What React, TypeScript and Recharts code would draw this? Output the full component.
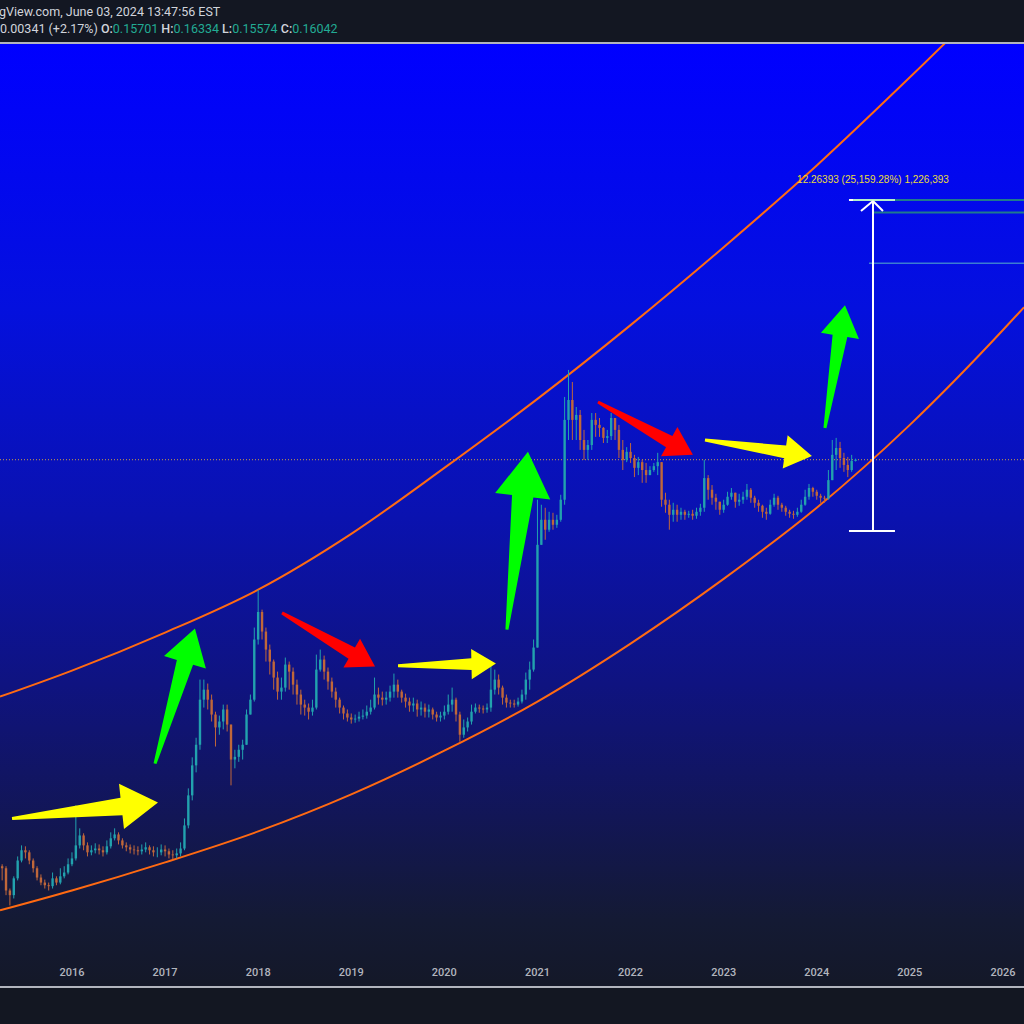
import React from 'react';
import { ComposedChart, Line, Scatter, XAxis, YAxis, ReferenceLine, ReferenceDot } from 'recharts';

// semi-monthly candles from 2015.25 to 2024.42
const firstOpen = 0.00018;
const closes = [
  0.000174, 0.00012, 0.000111, 0.000147, 0.000198, 0.000235, 0.000227, 0.000198, 0.000174, 0.000149,
  0.000137, 0.000131, 0.000129, 0.000147, 0.000137, 0.000152, 0.000162, 0.000186, 0.000205, 0.000255,
  0.000301, 0.000255, 0.000227, 0.000235, 0.000242, 0.000235, 0.000227, 0.000251, 0.000287, 0.000306,
  0.000277, 0.000255, 0.000247, 0.000238, 0.000235, 0.000231, 0.000238, 0.000247, 0.000235, 0.000227,
  0.000227, 0.000238, 0.000231, 0.000219, 0.000216, 0.000223, 0.000242, 0.000356, 0.000588, 0.000971,
  0.00137, 0.00291, 0.00344, 0.00291, 0.00227, 0.00183, 0.00202, 0.00247, 0.00192, 0.00107,
  0.00112, 0.00126, 0.00137, 0.00227, 0.00291, 0.00795, 0.0126, 0.00908, 0.00672, 0.0055,
  0.00421, 0.00333, 0.00356, 0.00523, 0.00465, 0.00374, 0.00317, 0.00268, 0.00255, 0.00238,
  0.00255, 0.00481, 0.00569, 0.00465, 0.00394, 0.00333, 0.00291, 0.00255, 0.00231, 0.00216,
  0.00209, 0.00212, 0.00219, 0.00223, 0.00238, 0.00255, 0.00317, 0.00301, 0.00291, 0.00301,
  0.00333, 0.00374, 0.00333, 0.00301, 0.00282, 0.00264, 0.00273, 0.00247, 0.00255, 0.00238,
  0.00247, 0.00227, 0.00216, 0.00223, 0.00238, 0.00268, 0.00291, 0.00227, 0.00162, 0.00183,
  0.00202, 0.00238, 0.00255, 0.00251, 0.00247, 0.00255, 0.00344, 0.00407, 0.00356, 0.00301,
  0.00277, 0.00273, 0.00268, 0.00282, 0.00317, 0.00407, 0.00481, 0.00695, 0.0387, 0.0588,
  0.0498, 0.0588, 0.0541, 0.0588, 0.0822, 0.312, 0.435, 0.312, 0.339, 0.223,
  0.189, 0.205, 0.312, 0.287, 0.273, 0.231, 0.238, 0.322, 0.264, 0.189,
  0.16, 0.183, 0.165, 0.14, 0.154, 0.135, 0.124, 0.135, 0.144, 0.154,
  0.0822, 0.0756, 0.0639, 0.0695, 0.0639, 0.0672, 0.0639, 0.065, 0.0629, 0.0672,
  0.0719, 0.118, 0.0971, 0.085, 0.0795, 0.0695, 0.0756, 0.0864, 0.0924, 0.0795,
  0.0822, 0.0864, 0.0971, 0.085, 0.0781, 0.0743, 0.0672, 0.065, 0.0756, 0.085,
  0.0756, 0.0719, 0.0672, 0.065, 0.0639, 0.0672, 0.0756, 0.0864, 0.1, 0.0939,
  0.0878, 0.085, 0.0836, 0.114, 0.174, 0.195, 0.165, 0.147, 0.135, 0.15701,
  0.16042,
];
const highs = [
  0.000186, 0.00018, 0.000124, 0.000152, 0.000212, 0.000255, 0.000251, 0.000235, 0.000205, 0.00018,
  0.000157, 0.000144, 0.000137, 0.000162, 0.000152, 0.000174, 0.00018, 0.000205, 0.000227, 0.000498,
  0.000339, 0.000312, 0.000268, 0.000255, 0.000264, 0.000259, 0.000251, 0.000277, 0.000317, 0.000339,
  0.000317, 0.000287, 0.000268, 0.000259, 0.000255, 0.000251, 0.000259, 0.000268, 0.000255, 0.000251,
  0.000247, 0.000259, 0.000255, 0.000242, 0.000235, 0.000242, 0.000268, 0.0004, 0.000661, 0.00111,
  0.00154, 0.00407, 0.00407, 0.00381, 0.00317, 0.00238, 0.00223, 0.00268, 0.00268, 0.00177,
  0.00126, 0.00137, 0.00149, 0.00247, 0.00317, 0.00971, 0.0183, 0.0131, 0.00971, 0.00731,
  0.00569, 0.00465, 0.00421, 0.00588, 0.0055, 0.00498, 0.00407, 0.00344, 0.00291, 0.00273,
  0.00291, 0.00618, 0.00672, 0.00608, 0.00498, 0.00421, 0.00356, 0.00301, 0.00264, 0.00247,
  0.00231, 0.00227, 0.00238, 0.00247, 0.00264, 0.00291, 0.00421, 0.00356, 0.00333, 0.00333,
  0.00368, 0.0045, 0.00407, 0.00344, 0.00322, 0.00301, 0.00301, 0.00291, 0.00282, 0.00273,
  0.00268, 0.00255, 0.00238, 0.00238, 0.00264, 0.00317, 0.00356, 0.00301, 0.00238, 0.00209,
  0.00216, 0.00268, 0.00273, 0.00268, 0.00264, 0.00273, 0.0055, 0.00481, 0.00443, 0.00368,
  0.00317, 0.00291, 0.00291, 0.00301, 0.00344, 0.00458, 0.0055, 0.00795, 0.0822, 0.0756,
  0.0719, 0.0672, 0.0661, 0.0639, 0.0893, 0.458, 0.719, 0.588, 0.387, 0.368,
  0.264, 0.223, 0.35, 0.35, 0.322, 0.277, 0.264, 0.35, 0.312, 0.287,
  0.223, 0.198, 0.212, 0.174, 0.168, 0.16, 0.152, 0.144, 0.152, 0.18,
  0.135, 0.0924, 0.0822, 0.0781, 0.0756, 0.0719, 0.0695, 0.0683, 0.0695, 0.0719,
  0.0768, 0.16, 0.124, 0.105, 0.0908, 0.0795, 0.0822, 0.0939, 0.1, 0.0908,
  0.0908, 0.0939, 0.107, 0.1, 0.0878, 0.0822, 0.0756, 0.0719, 0.0822, 0.0908,
  0.0878, 0.0781, 0.0743, 0.0695, 0.0683, 0.0719, 0.0822, 0.0971, 0.107, 0.102,
  0.0971, 0.0908, 0.0878, 0.135, 0.223, 0.231, 0.216, 0.18, 0.168, 0.174,
  0.16334,
];
const lows = [
  0.000142, 0.000111, 0.0000935, 0.000105, 0.000142, 0.000192, 0.000205, 0.000186, 0.000162, 0.000142,
  0.000131, 0.000124, 0.00012, 0.000124, 0.000131, 0.000133, 0.000147, 0.000157, 0.00018, 0.000198,
  0.000242, 0.000235, 0.000212, 0.000216, 0.000223, 0.000219, 0.000212, 0.000219, 0.000242, 0.000277,
  0.000259, 0.000242, 0.000231, 0.000223, 0.000219, 0.000216, 0.000219, 0.000227, 0.000219, 0.000212,
  0.000209, 0.000216, 0.000212, 0.000205, 0.000202, 0.000205, 0.000212, 0.000235, 0.000339, 0.000541,
  0.000864, 0.00126, 0.00255, 0.00247, 0.00202, 0.00133, 0.00162, 0.00177, 0.00171, 0.000695,
  0.000924, 0.00103, 0.00107, 0.00137, 0.00238, 0.00282, 0.00731, 0.00795, 0.0055, 0.00443,
  0.00344, 0.00291, 0.00291, 0.00333, 0.00344, 0.00317, 0.00268, 0.00227, 0.00223, 0.00209,
  0.00223, 0.00247, 0.00465, 0.00407, 0.00344, 0.00301, 0.00255, 0.00231, 0.00209, 0.00202,
  0.00195, 0.00198, 0.00202, 0.00209, 0.00212, 0.00227, 0.00247, 0.00268, 0.00264, 0.00268,
  0.00282, 0.00301, 0.00301, 0.00277, 0.00255, 0.00238, 0.00238, 0.00219, 0.00223, 0.00216,
  0.00216, 0.00209, 0.00202, 0.00202, 0.00209, 0.00227, 0.00238, 0.00202, 0.00144, 0.00154,
  0.00171, 0.00192, 0.00231, 0.00234, 0.00231, 0.00234, 0.00238, 0.00317, 0.00317, 0.00268,
  0.00255, 0.00255, 0.00255, 0.00259, 0.00273, 0.00291, 0.00344, 0.00465, 0.00695, 0.0387,
  0.0421, 0.0481, 0.0498, 0.0514, 0.0569, 0.0756, 0.223, 0.223, 0.223, 0.189,
  0.16, 0.16, 0.189, 0.235, 0.235, 0.212, 0.212, 0.223, 0.223, 0.165,
  0.135, 0.154, 0.152, 0.12, 0.124, 0.109, 0.109, 0.126, 0.131, 0.124,
  0.0731, 0.0661, 0.0498, 0.0569, 0.0569, 0.0588, 0.0588, 0.0608, 0.0588, 0.0598,
  0.0629, 0.0672, 0.0822, 0.0756, 0.0695, 0.0639, 0.0661, 0.0743, 0.0822, 0.0719,
  0.0743, 0.0768, 0.0822, 0.0781, 0.0719, 0.0672, 0.0608, 0.0588, 0.0639, 0.0731,
  0.0695, 0.0672, 0.0629, 0.0608, 0.0598, 0.0618, 0.0661, 0.0743, 0.0822, 0.0864,
  0.0822, 0.0781, 0.0781, 0.0822, 0.118, 0.135, 0.14, 0.131, 0.12, 0.131,
  0.15574,
];
const candleTimes = closes.map((_, i) => 2015.25 + i / 24);

// channel curves
const curveYears = [2015.227, 2016, 2017, 2018, 2019, 2020, 2021, 2022, 2023, 2024, 2025, 2026, 2026.226];
const upperBand = [0.00306, 0.00473, 0.00893, 0.0183, 0.0465, 0.14, 0.443, 1.52, 5.59, 21.9, 95.5, 440, 624];
const lowerBand = [0.0000861, 0.00012, 0.000192, 0.000322, 0.000598, 0.00124, 0.00282, 0.00743, 0.0219, 0.0719, 0.287, 1.4, 2.05];

// hand-drawn arrows: tail -> tip
const arrowTailT = [2015.356, 2016.892, 2018.256, 2019.502, 2020.672, 2021.65, 2022.799, 2024.088];
const arrowTailP = [0.0004, 0.001, 0.0124, 0.00514, 0.00939, 0.421, 0.223, 0.273];
const arrowTipT = [2016.924, 2017.321, 2019.255, 2020.554, 2020.898, 2022.67, 2023.948, 2024.303];
const arrowTipP = [0.000523, 0.00955, 0.00506, 0.00532, 0.183, 0.174, 0.171, 2.12];
const arrowColors = ['#ffff00', '#00ff00', '#ff0000', '#ffff00', '#00ff00', '#ff0000', '#ffff00', '#00ff00'];

// price range measurement
const measureT = 2024.604;
const measureLeft = 2024.346;
const measureRight = 2024.84;
const measureLow = 0.04875;
const measureHigh = 12.31;
const measureLabel = '12.26393 (25,159.28%) 1,226,393';
const levelA = 10.0;
const levelB = 4.28;
const lastClose = 0.16042;

const yearTicks = [2016, 2017, 2018, 2019, 2020, 2021, 2022, 2023, 2024, 2025, 2026];

const UP = '#22a2ae';
const DOWN = '#c0673a';

const curveRows = curveYears.map((t, i) => ({ t, upper: upperBand[i], lower: lowerBand[i] }));

const candles = closes.map((c, i) => {
  const open = i === 0 ? firstOpen : closes[i - 1];
  return {
    t: candleTimes[i],
    open,
    close: c,
    high: Math.max(highs[i], open, c),
    low: Math.min(lows[i], open, c),
    color: c >= open ? UP : DOWN,
  };
});

function ArrowShape({ points, color }: { points?: { x: number; y: number }[]; color: string }) {
  if (!points || points.length < 2) return null;
  const a = points[0];
  const b = points[1];
  const dx = b.x - a.x;
  const dy = b.y - a.y;
  const len = Math.hypot(dx, dy);
  const ux = dx / len;
  const uy = dy / len;
  const nx = -uy;
  const ny = ux;
  const head = len * 0.25;
  const headW = len * 0.155;
  const neck = len * 0.06;
  const tail = 1.5;
  const bx = b.x - ux * head;
  const by = b.y - uy * head;
  const pts = [
    [a.x + nx * tail, a.y + ny * tail],
    [bx + nx * neck, by + ny * neck],
    [bx + nx * headW, by + ny * headW],
    [b.x, b.y],
    [bx - nx * headW, by - ny * headW],
    [bx - nx * neck, by - ny * neck],
    [a.x - nx * tail, a.y - ny * tail],
  ];
  return <polygon points={pts.map((p) => p.join(',')).join(' ')} fill={color} />;
}

const noDot = () => <g />;

export default function App() {
  const teal = { color: '#22ab94', fontWeight: 400 };
  return (
    <div
      style={{
        position: 'absolute',
        left: 0,
        top: 0,
        width: 1024,
        height: 1024,
        background: '#131722',
        overflow: 'hidden',
        fontFamily: 'Roboto, "Liberation Sans", sans-serif',
      }}
    >
      <div style={{ position: 'absolute', left: -1, top: 4, fontSize: 12.5, lineHeight: '16px', color: '#d1d4dc', whiteSpace: 'nowrap' }}>
        gView.com, June 03, 2024 13:47:56 EST
      </div>
      <div style={{ position: 'absolute', left: 0, top: 21, fontSize: 12.5, lineHeight: '16px', color: '#d1d4dc', whiteSpace: 'nowrap', fontWeight: 500 }}>
        <span style={{ fontWeight: 400 }}>0.00341 (+2.17%)</span> O:<span style={teal}>0.15701</span> H:<span style={teal}>0.16334</span> L:
        <span style={teal}>0.15574</span> C:<span style={teal}>0.16042</span>
      </div>
      <div
        style={{
          position: 'absolute',
          left: 0,
          top: 44,
          width: 1024,
          height: 942,
          background: 'linear-gradient(to bottom, #0000ff 0%, #0410de 28%, #0a12b0 50%, #0f1380 68%, #121656 82%, #141a34 93%, #141828 100%)',
        }}
      />
      <div style={{ position: 'absolute', left: 0, top: 42, width: 1024, height: 2, background: '#b2b5be' }} />
      <div style={{ position: 'absolute', left: 0, top: 986, width: 1024, height: 2, background: '#b2b5be' }} />
      <div style={{ position: 'absolute', left: 0, top: 44 }}>
        <ComposedChart width={1024} height={942} data={curveRows} margin={{ top: 0, right: 0, bottom: 0, left: 0 }}>
          <XAxis
            dataKey="t"
            type="number"
            domain={[2015.227, 2026.226]}
            allowDataOverflow
            ticks={yearTicks}
            interval={0}
            height={30}
            axisLine={false}
            tickLine={false}
            tickMargin={6}
            tick={{ fill: '#b2b5be', fontSize: 11, fontFamily: 'Roboto, sans-serif', fontWeight: 500 }}
          />
          <YAxis hide type="number" scale="log" domain={[0.00004016, 166.7]} allowDataOverflow />

          {arrowColors.map((color, i) => (
            <Scatter
              key={'arrow' + i}
              data={[
                { t: arrowTailT[i], p: arrowTailP[i] },
                { t: arrowTipT[i], p: arrowTipP[i] },
              ]}
              dataKey="p"
              fill={color}
              shape={noDot}
              line={(lp: any) => <ArrowShape points={lp.points} color={color} />}
              isAnimationActive={false}
            />
          ))}

          <Line dataKey="upper" type="monotone" stroke="#ff6a12" strokeWidth={2} dot={false} isAnimationActive={false} />
          <Line dataKey="lower" type="monotone" stroke="#ff6a12" strokeWidth={2} dot={false} isAnimationActive={false} />

          <ReferenceLine y={lastClose} stroke="#d0a040" strokeDasharray="1 2" strokeWidth={1} />

          {candles.map((c, i) => (
            <ReferenceLine
              key={'wick' + i}
              segment={[
                { x: c.t, y: c.low },
                { x: c.t, y: c.high },
              ]}
              stroke={c.color}
              strokeWidth={1}
            />
          ))}
          {candles.map((c, i) => (
            <ReferenceLine
              key={'body' + i}
              segment={[
                { x: c.t, y: c.open },
                { x: c.t, y: c.close },
              ]}
              stroke={c.color}
              strokeWidth={2.4}
            />
          ))}

          <ReferenceLine segment={[{ x: 2024.84, y: measureHigh }, { x: 2026.226, y: measureHigh }]} stroke="#1f7a8c" strokeWidth={2} />
          <ReferenceLine segment={[{ x: measureT, y: levelA }, { x: 2026.226, y: levelA }]} stroke="#1f7a8c" strokeWidth={2} />
          <ReferenceLine segment={[{ x: 2024.561, y: levelB }, { x: 2026.226, y: levelB }]} stroke="#5ab4c8" strokeWidth={1} />
          <ReferenceLine segment={[{ x: measureT, y: measureLow }, { x: measureT, y: measureHigh }]} stroke="#ffffff" strokeWidth={2} />
          <ReferenceLine segment={[{ x: measureLeft, y: measureLow }, { x: measureRight, y: measureLow }]} stroke="#ffffff" strokeWidth={2} />
          <ReferenceLine segment={[{ x: measureLeft, y: measureHigh }, { x: measureRight, y: measureHigh }]} stroke="#ffffff" strokeWidth={2} />
          <ReferenceLine segment={[{ x: 2024.389, y: measureHigh }, { x: measureRight, y: measureHigh }]} stroke="#b4f0c8" strokeWidth={2} />
          <ReferenceLine segment={[{ x: 2024.475, y: 10.24 }, { x: measureT, y: 12.1 }]} stroke="#ffffff" strokeWidth={2} />
          <ReferenceLine segment={[{ x: measureT, y: 12.1 }, { x: 2024.711, y: 10.24 }]} stroke="#ffffff" strokeWidth={2} />
          <ReferenceDot
            x={measureT}
            y={17.2}
            r={0}
            fill="none"
            stroke="none"
            label={{ value: measureLabel, position: 'center', fill: '#e8dc3c', fontSize: 10, fontFamily: '"Liberation Sans", sans-serif' }}
          />
        </ComposedChart>
      </div>
    </div>
  );
}
